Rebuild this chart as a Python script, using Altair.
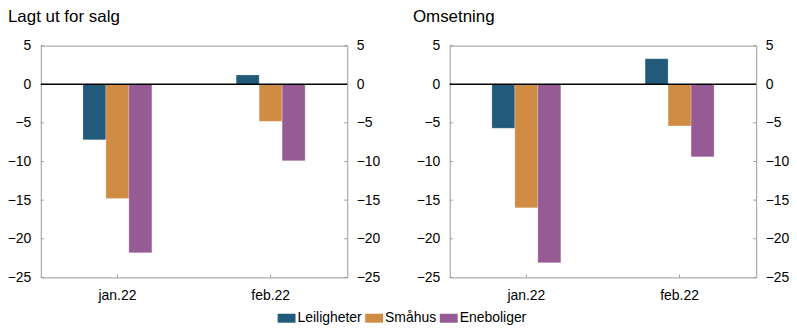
import altair as alt
import pandas as pd

months = ["jan.22", "feb.22"]
types = ["Leiligheter", "Småhus", "Eneboliger"]
colors = ["#215a7a", "#cf8c42", "#965a94"]
lagt_ut = {"Leiligheter": [-7.2, 1.2], "Småhus": [-14.8, -4.8], "Eneboliger": [-21.8, -9.9]}
omsetning = {"Leiligheter": [-5.7, 3.3], "Småhus": [-16.0, -5.4], "Eneboliger": [-23.1, -9.4]}
titles = ["Lagt ut for salg", "Omsetning"]
y_ticks = [5, 0, -5, -10, -15, -20, -25]

W, H = 308, 233
FONT = "Liberation Sans"
FS = 14
DOMAIN = [-25, 5]


def make_df(d):
    rows = []
    for t in types:
        for m, v in zip(months, d[t]):
            rows.append({"month": m, "type": t, "value": v})
    return pd.DataFrame(rows)


ticks_df = pd.DataFrame({"v": y_ticks})
months_df = pd.DataFrame({"month": months})
zero_df = pd.DataFrame({"v": [0]})

label_expr = "replace(datum.label, '-', '–')"

xscale = alt.Scale(domain=months, paddingInner=0.55, paddingOuter=0.275)
yscale = alt.Scale(domain=DOMAIN, nice=False, zero=False)
xaxis = alt.Axis(title=None, labelAngle=0, ticks=False, domain=False,
                 labelFont=FONT, labelFontSize=FS, labelColor="#000", labelPadding=11)


def panel(d, title, dx):
    df = make_df(d)
    bars = alt.Chart(df).mark_bar(stroke="#ffffff", strokeWidth=0.4, strokeOpacity=0.6).encode(
        x=alt.X("month:N", scale=xscale, sort=months, axis=xaxis),
        xOffset=alt.XOffset("type:N", sort=types,
                            scale=alt.Scale(domain=types, paddingInner=0, paddingOuter=0)),
        y=alt.Y("value:Q", scale=yscale,
                axis=alt.Axis(title=None, orient="left", values=y_ticks, ticks=False,
                              domain=False, grid=False, labelFont=FONT, labelFontSize=FS,
                              labelColor="#000", labelPadding=10, labelExpr=label_expr,
                              minExtent=40, maxExtent=40)),
        color=alt.Color("type:N", sort=types,
                        scale=alt.Scale(domain=types, range=colors),
                        legend=alt.Legend(title=None, orient="none", direction="horizontal",
                                          legendX=238, legendY=H + 32,
                                          symbolType="M-1,-0.5H1V0.5H-1Z", symbolSize=324,
                                          symbolStrokeWidth=0, labelFont=FONT,
                                          labelFontSize=FS, labelColor="#000",
                                          labelOffset=2, columnPadding=3)),
    )
    zero = alt.Chart(zero_df).mark_rule(color="#000", strokeWidth=1.3).encode(
        y=alt.Y("v:Q", scale=yscale,
                axis=alt.Axis(title=None, orient="right", values=y_ticks, ticks=False,
                              domain=False, grid=False, labelFont=FONT, labelFontSize=FS,
                              labelColor="#000", labelPadding=9, labelExpr=label_expr,
                              minExtent=40, maxExtent=40)),
        x=alt.value(0), x2=alt.value(W),
    )
    lt = alt.Chart(ticks_df).mark_rule(color="#999", strokeWidth=1).encode(
        y=alt.Y("v:Q", scale=yscale, axis=None), x=alt.value(0), x2=alt.value(3))
    rt = alt.Chart(ticks_df).mark_rule(color="#999", strokeWidth=1).encode(
        y=alt.Y("v:Q", scale=yscale, axis=None), x=alt.value(W - 3), x2=alt.value(W))
    bt = alt.Chart(months_df).mark_rule(color="#999", strokeWidth=1).encode(
        x=alt.X("month:N", scale=xscale, sort=months, axis=xaxis),
        y=alt.value(H - 3), y2=alt.value(H))
    return alt.layer(bars, lt, rt, bt, zero).resolve_scale(y="independent").properties(
        width=W, height=H,
        title=alt.TitleParams(title, anchor="start", frame="group", dx=dx, offset=13,
                              font=FONT, fontSize=17, fontWeight="normal", color="#000"))


left = panel(lagt_ut, titles[0], -33)
right = panel(omsetning, titles[1], -37)

chart = alt.hconcat(left, right, spacing=21).properties(
    padding={"left": 0, "right": 0, "top": 6, "bottom": 0}
).configure_view(stroke="#999", strokeWidth=1)

chart.save("out.html", embed_options={"renderer": "svg", "actions": False})
